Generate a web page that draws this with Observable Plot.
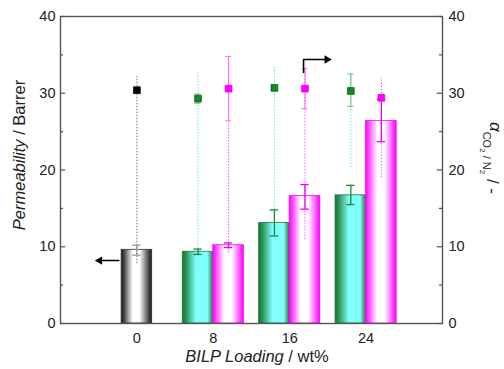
<!DOCTYPE html>
<html><head><meta charset="utf-8">
<script src="https://cdn.jsdelivr.net/npm/d3@7"></script>
<script src="https://cdn.jsdelivr.net/npm/@observablehq/plot@0.6"></script>
<style>body{margin:0;background:#fff;} svg{display:block}</style>
</head><body><div id="chart"></div>
<script>
// ---- data ----
const loadings     = [0, 8, 8, 16, 16, 24, 24];
const seriesKeys   = ["neat", "A", "B", "A", "B", "A", "B"];
const permeability = [9.6, 9.35, 10.2, 13.1, 16.6, 16.7, 26.4];
const permLow      = [8.9, 9.0, 9.9, 11.4, 14.9, 15.5, 23.7];
const permHigh     = [10.2, 9.7, 10.5, 14.8, 18.1, 18.0, 29.2];
const selectivity  = [30.4, 29.3, 30.6, 30.7, 30.6, 30.3, 29.4];
const selLow       = [30.4, 28.7, 26.4, 30.7, 28.0, 28.3, 29.4];
const selHigh      = [30.4, 29.9, 34.8, 30.7, 33.2, 32.5, 29.4];
const rangeLow     = [7.8, 6.7, 9.2, 11.3, 10.9, 20.3, 19.0];
const rangeHigh    = [32.4, 32.9, 34.8, 33.4, 33.3, 32.5, 32.0];
const xTicks       = [0, 8, 16, 24];
const yTicks       = [0, 10, 20, 30, 40];
const yMinorTicks  = [5, 15, 25, 35];
const leftArrowX   = [-1.9, -3.9];
const leftArrowY   = [8.2, 8.2];
const rightArrowX  = [17.45, 17.45, 19.9];
const rightArrowY  = [32.7, 34.4, 34.4];

// ---- styling ----
const offset = {neat: 0, A: -1.6, B: 1.6};
const half = 1.6, cap = 0.44, selCap = 0.32;
const sty = {
  neat: {grad: "url(#gNeat)", edge: "#333", range: "#8a8a8a", err: "#999", selErr: "#999", sq: "#000", sqStroke: "#000"},
  A:    {grad: "url(#gA)", edge: "#1d7a3a", range: "#7fe6e6", err: "#1d8a3a", selErr: "#6cc06c", sq: "#138a22", sqStroke: "#0b5e14"},
  B:    {grad: "url(#gB)", edge: "#ff00ff", range: "#ff6cff", err: "#ee00ee", selErr: "#ff66ff", sq: "#ff00ff", sqStroke: "#ee00ee"}
};
const rows = loadings.map((l, i) => ({x: l + offset[seriesKeys[i]], s: seriesKeys[i], i}));
const hasSelErr = rows.filter(d => selHigh[d.i] > selLow[d.i]);

const barMark = key => Plot.rect(rows.filter(d => d.s === key), {
  x1: d => d.x - half, x2: d => d.x + half, y1: d => 0, y2: d => permeability[d.i],
  fill: sty[key].grad, stroke: sty[key].edge, strokeWidth: 0.8
});

const svg = Plot.plot({
  width: 504, height: 369,
  marginLeft: 60, marginRight: 62, marginTop: 16, marginBottom: 46,
  x: {domain: [-8, 32]},
  y: {domain: [0, 40]},
  color: {type: "identity"},
  style: {fontFamily: "'Liberation Sans', Arial, sans-serif", fontSize: "14.5px", color: "#222", background: "#fff"},
  marks: [
    barMark("neat"), barMark("A"), barMark("B"),
    // dotted range lines
    Plot.ruleX(rows, {x: "x", y1: d => rangeLow[d.i], y2: d => rangeHigh[d.i],
      stroke: d => sty[d.s].range, strokeWidth: 1.2, strokeDasharray: "1.5 1.5"}),
    // permeability error bars
    Plot.ruleX(rows, {x: "x", y1: d => permLow[d.i], y2: d => permHigh[d.i], stroke: d => sty[d.s].err, strokeWidth: 1.3}),
    Plot.ruleY(rows, {y: d => permLow[d.i], x1: d => d.x - cap, x2: d => d.x + cap, stroke: d => sty[d.s].err, strokeWidth: 1.3}),
    Plot.ruleY(rows, {y: d => permHigh[d.i], x1: d => d.x - cap, x2: d => d.x + cap, stroke: d => sty[d.s].err, strokeWidth: 1.3}),
    // selectivity error bars
    Plot.ruleX(hasSelErr, {x: "x", y1: d => selLow[d.i], y2: d => selHigh[d.i], stroke: d => sty[d.s].selErr, strokeWidth: 1}),
    Plot.ruleY(hasSelErr, {y: d => selLow[d.i], x1: d => d.x - selCap, x2: d => d.x + selCap, stroke: d => sty[d.s].selErr, strokeWidth: 1}),
    Plot.ruleY(hasSelErr, {y: d => selHigh[d.i], x1: d => d.x - selCap, x2: d => d.x + selCap, stroke: d => sty[d.s].selErr, strokeWidth: 1}),
    // selectivity squares
    Plot.dot(rows, {x: "x", y: d => selectivity[d.i], symbol: "square", r: 3.8,
      fill: d => sty[d.s].sq, stroke: d => sty[d.s].sqStroke, strokeWidth: 0.8}),
    // arrows
    Plot.line(leftArrowX.map((x, k) => ({x, y: leftArrowY[k]})), {x: "x", y: "y", stroke: "#000", strokeWidth: 1.6}),
    Plot.dot([0], {x: leftArrowX[1], y: leftArrowY[1], symbol: "triangle", r: 3.1, rotate: -90, fill: "#000", stroke: "none"}),
    Plot.line(rightArrowX.map((x, k) => ({x, y: rightArrowY[k]})), {x: "x", y: "y", stroke: "#000", strokeWidth: 1.6}),
    Plot.dot([0], {x: rightArrowX[2], y: rightArrowY[2], symbol: "triangle", r: 3.1, rotate: 90, fill: "#000", stroke: "none"}),
    // frame and inward ticks
    Plot.frame({stroke: "#555", strokeWidth: 1.4}),
    Plot.ruleY(yTicks, {y: d => d, x1: -8, x2: -8 + 0.55, stroke: "#555", strokeWidth: 1.2}),
    Plot.ruleY(yMinorTicks, {y: d => d, x1: -8, x2: -8 + 0.32, stroke: "#555", strokeWidth: 1.2}),
    Plot.ruleY(yTicks, {y: d => d, x1: 32 - 0.55, x2: 32, stroke: "#555", strokeWidth: 1.2}),
    Plot.ruleY(yMinorTicks, {y: d => d, x1: 32 - 0.32, x2: 32, stroke: "#555", strokeWidth: 1.2}),
    // axes
    Plot.axisX(xTicks, {anchor: "bottom", tickSize: 0, tickPadding: 9, tickFormat: d => d, label: null}),
    Plot.axisY(yTicks, {anchor: "left", tickSize: 0, tickPadding: 5, tickFormat: d => d, label: null}),
    Plot.axisY(yTicks, {anchor: "right", tickSize: 0, tickPadding: 6, tickFormat: d => d, label: null})
  ]
});

// gradients for the bars
const s = d3.select(svg);
const defs = s.insert("defs", ":first-child");
function grad(id, stops) {
  const g = defs.append("linearGradient").attr("id", id).attr("x1", "0").attr("x2", "1").attr("y1", "0").attr("y2", "0");
  stops.forEach(([o, c]) => g.append("stop").attr("offset", o).attr("stop-color", c));
}
grad("gNeat", [[0, "#1a1a1a"], [0.08, "#3a3a3a"], [0.38, "#ffffff"], [0.6, "#ffffff"], [0.9, "#4a4a4a"], [1, "#1a1a1a"]]);
grad("gA", [[0, "#1b7434"], [0.12, "#2a9050"], [0.45, "#80ffff"], [0.82, "#80ffff"], [0.95, "#3aa068"], [1, "#1b7434"]]);
grad("gB", [[0, "#ff00ff"], [0.1, "#ff40ff"], [0.38, "#ffffff"], [0.62, "#ffffff"], [0.9, "#ff40ff"], [1, "#ff00ff"]]);

// axis titles
const font = "'Liberation Sans', Arial, sans-serif";
const yl = s.append("text").attr("transform", "translate(25,155) rotate(-90)")
  .attr("text-anchor", "middle").attr("font-family", font).attr("font-size", 16.5).attr("fill", "#222");
yl.append("tspan").attr("font-style", "italic").text("Permeability");
yl.append("tspan").text(" / Barrer");

const xl = s.append("text").attr("x", 257).attr("y", 362)
  .attr("text-anchor", "middle").attr("font-family", font).attr("font-size", 16.5).attr("fill", "#222");
xl.append("tspan").attr("font-style", "italic").text("BILP Loading");
xl.append("tspan").text(" / wt%");

const rl = s.append("text").attr("transform", "translate(490,158) rotate(90)")
  .attr("text-anchor", "middle").attr("font-family", font).attr("font-size", 17).attr("fill", "#222");
rl.append("tspan").attr("font-style", "italic").text("α");
rl.append("tspan").attr("font-size", 11).attr("dy", 7).text("CO");
rl.append("tspan").attr("font-size", 8).attr("dy", 3).text("2");
rl.append("tspan").attr("font-size", 11).attr("dy", -3).text(" / N");
rl.append("tspan").attr("font-size", 8).attr("dy", 3).text("2");
rl.append("tspan").attr("dy", -7).text(" / -");

document.getElementById("chart").appendChild(svg);
</script>
</body></html>
